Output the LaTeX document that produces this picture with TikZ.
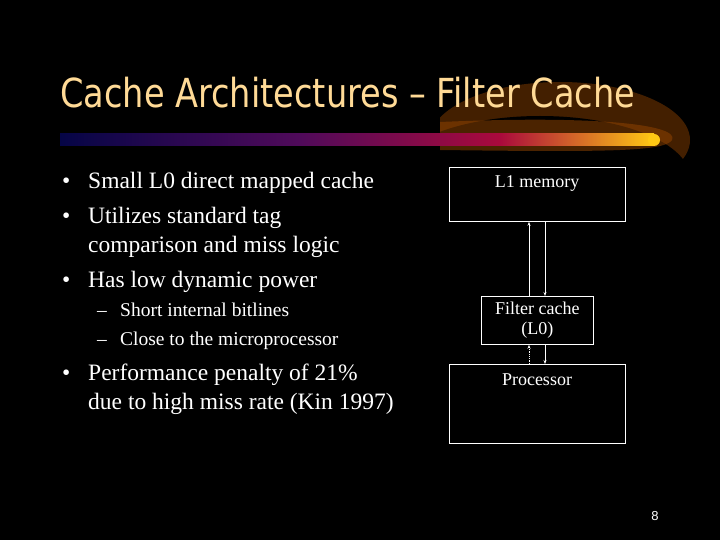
\documentclass[tikz,border=0pt]{standalone}
\usepackage{fontspec}
\setmainfont{Liberation Serif}
\newfontfamily\titlefont{DejaVu Sans}
\newfontfamily\numfont{Liberation Sans}
\usetikzlibrary{arrows.meta,shadings}
\definecolor{ttl}{RGB}{255,218,150}
\definecolor{bnavy}{RGB}{5,5,70}
\definecolor{bpurp}{RGB}{80,10,90}
\definecolor{bred}{RGB}{170,10,60}
\definecolor{byellow}{RGB}{255,200,20}
\definecolor{glow}{RGB}{150,70,0}
\begin{document}
\begin{tikzpicture}[x=1pt,y=-1pt,
  box/.style={draw=white,line width=0.8pt,inner sep=0pt},
  lbl/.style={text=white,font=\fontsize{18}{20}\selectfont},
  txt/.style={text=white,anchor=base west,inner sep=0pt,font=\fontsize{23.5}{26}\selectfont},
  sub/.style={text=white,anchor=base west,inner sep=0pt,font=\fontsize{19.5}{22}\selectfont},
  arr/.style={white,line width=0.8pt,-{Stealth[length=4pt,width=3pt]}}]
\fill[black] (0,0) rectangle (720,540);
\useasboundingbox (0,0) rectangle (720,540);
% glow swoosh
\begin{scope}
\clip (440,70) rectangle (720,260);
\fill[glow,opacity=0.45] (560,140) ellipse[x radius=130,y radius=58];
\fill[black] (540,178) ellipse[x radius=150,y radius=62];
\end{scope}
\fill[glow,opacity=0.5] (440,122) .. controls (600,115) and (680,125) .. (672,140) .. controls (665,152) and (600,152) .. (440,150) -- cycle;
% bar
\shade[left color=bnavy,right color=bpurp] (60,134) rectangle (300,146);
\shade[left color=bpurp,right color=bred] (300,134) rectangle (500,146);
\shade[left color=bred,right color=byellow] (500,134) rectangle (654,146);
\fill[byellow] (654,140) circle[radius=6];
% title
\node[text=ttl,anchor=base west,inner sep=0pt,font=\titlefont\fontsize{40}{44}\selectfont,xscale=0.84] (title) at (60,108) {Cache Architectures – Filter Cache};
% bullets
\node[txt] (b1) at (62,189) {•}; \node[txt] (t1) at (88,189) {Small L0 direct mapped cache};
\node[txt] (b2) at (62,223) {•}; \node[txt] (t2) at (88,223) {Utilizes standard tag};
\node[txt] (t2b) at (88,252) {comparison and miss logic};
\node[txt] (b3) at (62,287) {•}; \node[txt] (t3) at (88,287) {Has low dynamic power};
\node[sub] (s1d) at (97,316) {–}; \node[sub] (s1) at (120,316) {Short internal bitlines};
\node[sub] (s2d) at (97,345) {–}; \node[sub] (s2) at (120,345) {Close to the microprocessor};
\node[txt] (b4) at (62,380) {•}; \node[txt] (t4) at (88,380) {Performance penalty of 21\%};
\node[txt] (t4b) at (88,409) {due to high miss rate (Kin 1997)};
% boxes
\node[box,minimum width=176,minimum height=54,anchor=north west] (l1) at (449,167) {};
\node[lbl,anchor=north] (l1t) at (537,172) {L1 memory};
\node[box,minimum width=112,minimum height=48,anchor=north west,align=center,lbl,inner sep=0pt] (fc) at (481,296) {Filter cache\\(L0)};
\node[box,minimum width=176,minimum height=79,anchor=north west] (pr) at (449,364) {};
\node[lbl,anchor=north] (prt) at (537,370) {Processor};
% arrows
\draw[arr] (fc.north -| 529,0) -- (l1.south -| 529,0);
\draw[arr] (l1.south -| 545,0) -- (fc.north -| 545,0);
\draw[arr,densely dotted] (pr.north -| 529,0) -- (fc.south -| 529,0);
\draw[arr] (fc.south -| 545,0) -- (pr.north -| 545,0);
\node[text=white,font=\numfont\fontsize{13}{15}\selectfont] (pg) at (655,516) {8};
\end{tikzpicture}
\end{document}
